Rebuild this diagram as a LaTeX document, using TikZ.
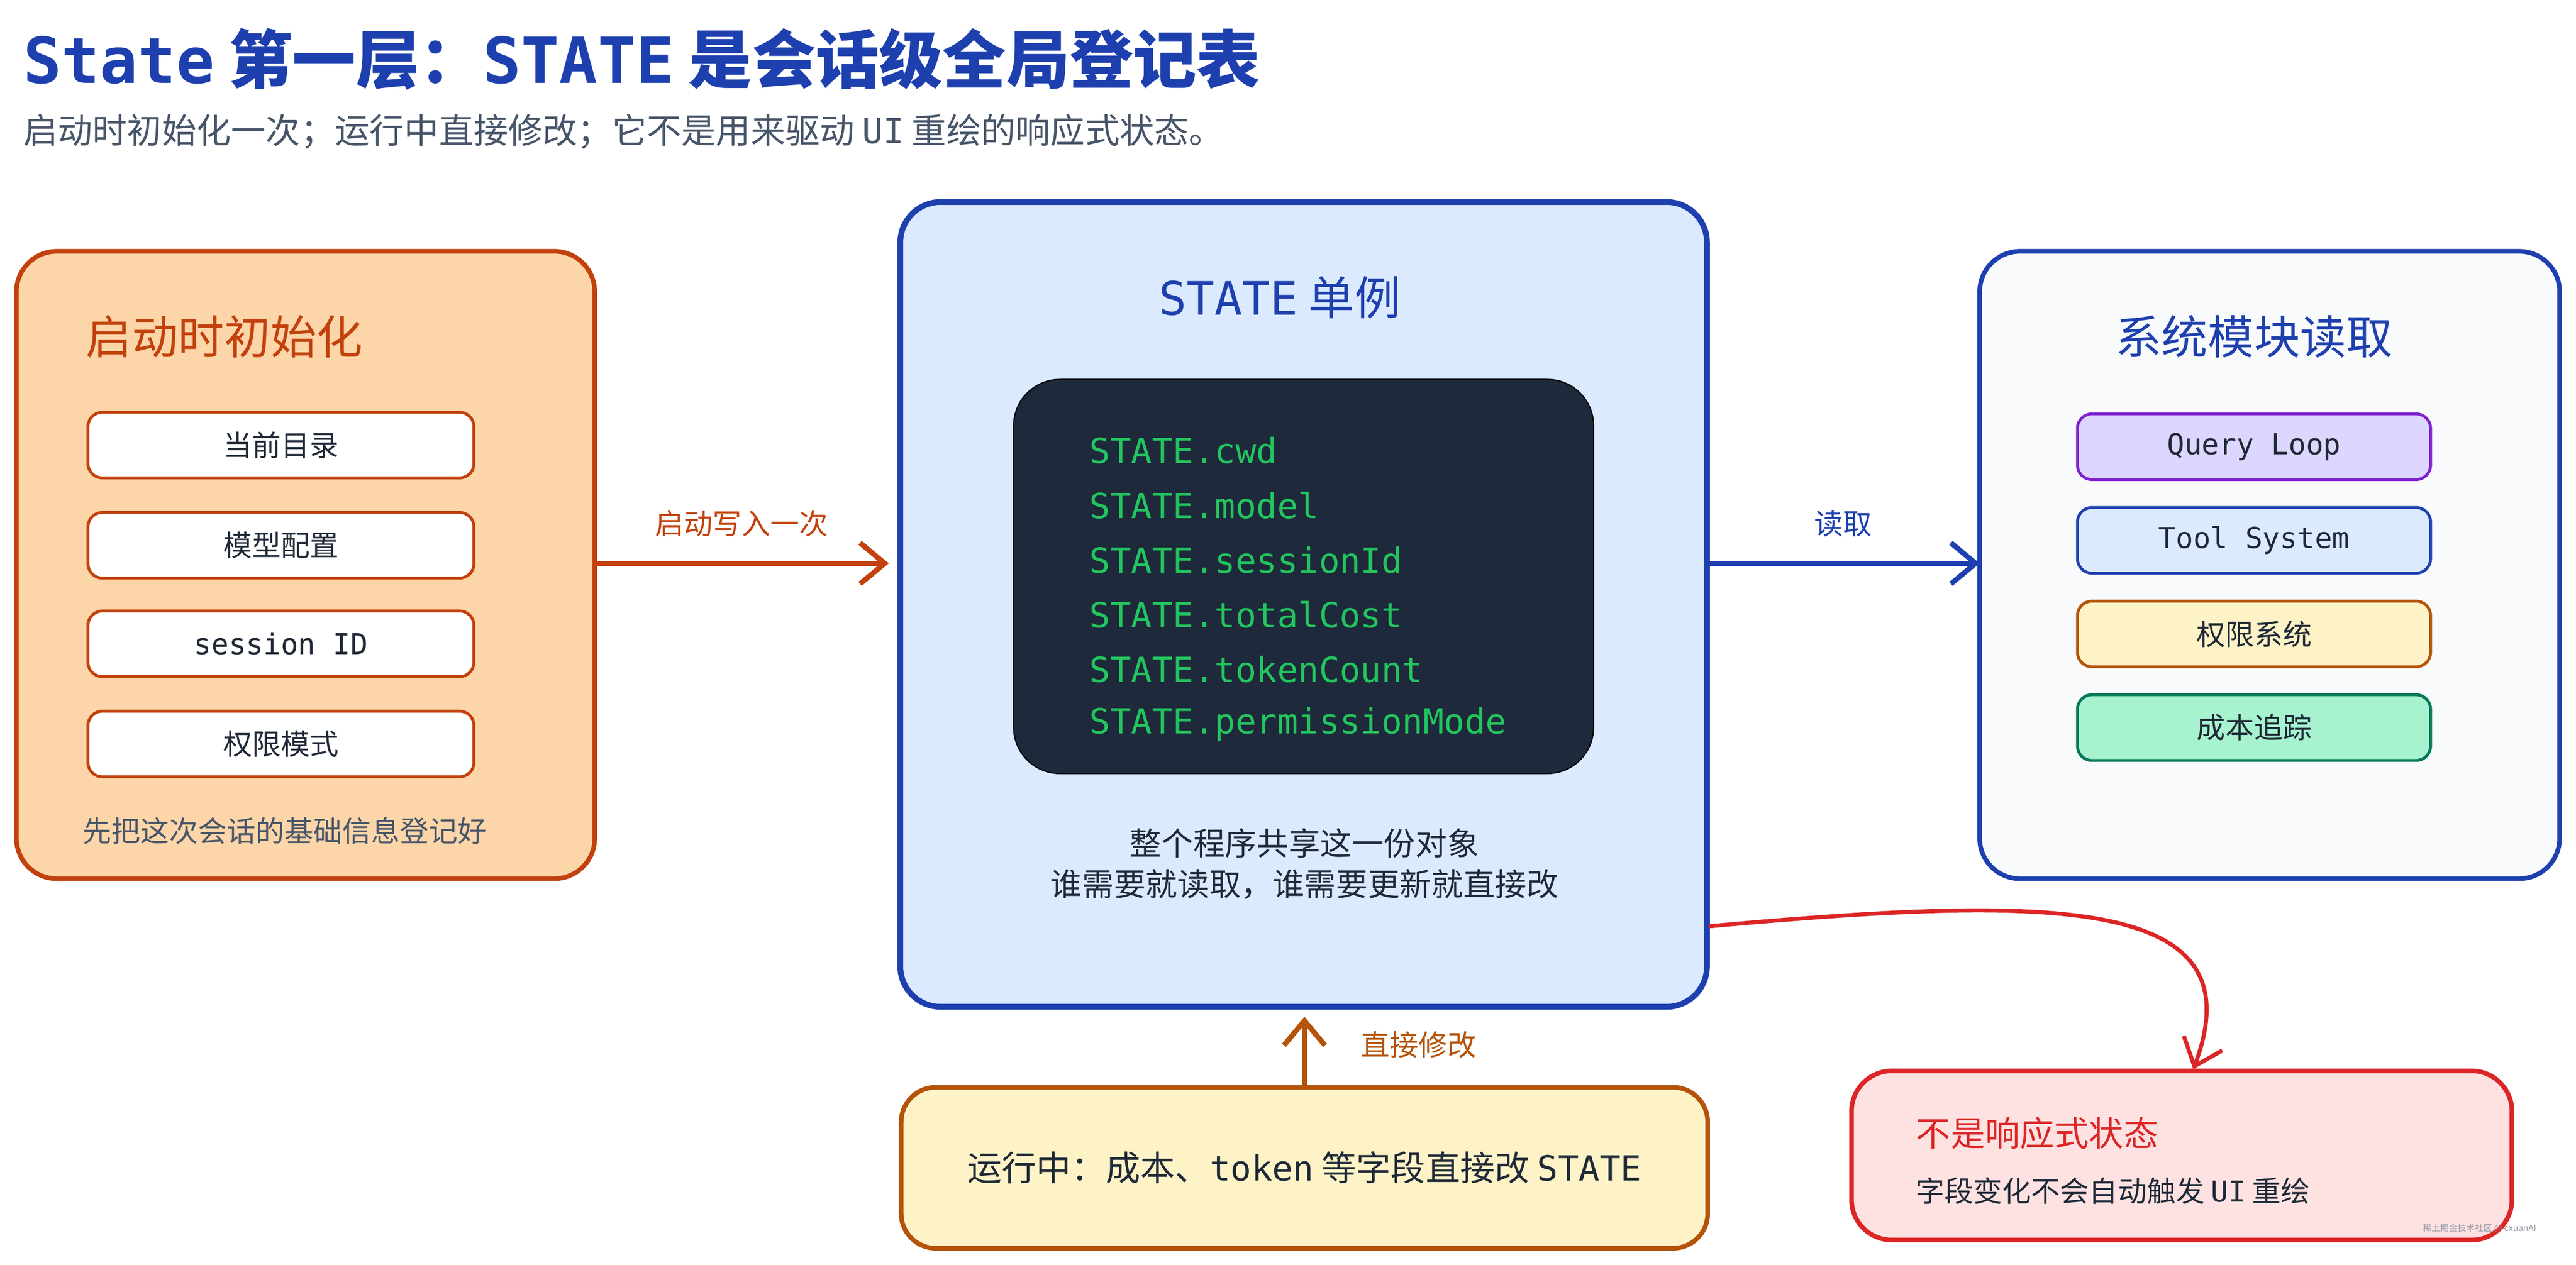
\documentclass[tikz,border=0pt]{standalone}
\usepackage{fontspec}
\setmainfont{Noto Sans CJK SC}
\setmonofont{DejaVu Sans Mono}
\usetikzlibrary{arrows.meta,positioning}
\definecolor{titleblue}{HTML}{1E40AF}
\definecolor{slate}{HTML}{475569}
\definecolor{ink}{HTML}{1F2937}
\definecolor{orng}{HTML}{C2410C}
\definecolor{orngfill}{HTML}{FCD5A8}
\definecolor{lightblue}{HTML}{DBEAFE}
\definecolor{navy}{HTML}{1E293B}
\definecolor{codegreen}{HTML}{22C55E}
\definecolor{offwhite}{HTML}{F8FAFC}
\definecolor{purp}{HTML}{7E22CE}
\definecolor{purpfill}{HTML}{DDD6FE}
\definecolor{brown}{HTML}{B45309}
\definecolor{cream}{HTML}{FEF3C7}
\definecolor{teal}{HTML}{047857}
\definecolor{mint}{HTML}{A7F3D0}
\definecolor{red}{HTML}{DC2626}
\definecolor{pink}{HTML}{FEE2E2}

\begin{document}
\begin{tikzpicture}[x=0.02cm,y=-0.02cm,
    panel/.style={draw,line width=1.6pt,rounded corners=14pt},
    item/.style={draw,line width=1pt,rounded corners=5pt,minimum width=4.7cm,minimum height=0.8cm,font=\fontsize{10}{12}\selectfont,text=ink},
    ritem/.style={item,minimum width=4.3cm},
    head/.style={font=\fontsize{16}{19}\selectfont},
    arr/.style={line width=1.8pt,-{Straight Barb[length=3mm,width=5mm]}},
    lbl/.style={font=\fontsize{10}{12}\selectfont}]
  \useasboundingbox (0,0) rectangle (1568,770);

  \node[anchor=west,text=titleblue,font=\fontsize{22}{26}\selectfont\bfseries] (title) at (8,36)
    {\texttt{State} 第一层：\texttt{STATE} 是会话级全局登记表};
  \node[anchor=west,text=slate,font=\fontsize{12}{14}\selectfont] (subtitle) at (8,80)
    {启动时初始化一次；运行中直接修改；它不是用来驱动 \texttt{UI} 重绘的响应式状态。};

  % left panel
  \draw[panel,draw=orng,fill=orngfill] (10,153) rectangle (362,535);
  \node[head,anchor=west,text=orng] (inithead) at (46,205) {启动时初始化};
  \node[item,draw=orng,fill=white] (cwd) at (171,271) {当前目录};
  \node[item,draw=orng,fill=white] (model) at (171,332) {模型配置};
  \node[item,draw=orng,fill=white] (sid) at (171,392) {\texttt{session ID}};
  \node[item,draw=orng,fill=white] (perm) at (171,453) {权限模式};
  \node[lbl,anchor=west,text=slate] (initnote) at (44,506) {先把这次会话的基础信息登记好};

  % center panel
  \draw[panel,draw=titleblue,fill=lightblue,line width=2pt] (548,123) rectangle (1039,613);
  \node[head,text=titleblue] (statehead) at (779,181) {\texttt{STATE} 单例};
  \draw[fill=navy,rounded corners=16pt] (617,231) rectangle (970,471);
  \foreach \t [count=\i] in {cwd,model,sessionId,totalCost,tokenCount,permissionMode}
    \node[anchor=west,text=codegreen,font=\fontsize{12}{14}\ttfamily] (f\i) at (657,241+33.3*\i) {STATE.\t};
  \node[lbl,text=ink,font=\fontsize{11}{14}\selectfont,align=center] (statenote) at (794,526)
    {整个程序共享这一份对象\\谁需要就读取，谁需要更新就直接改};

  % right panel
  \draw[panel,draw=titleblue,fill=offwhite] (1205,153) rectangle (1558,535);
  \node[head,text=titleblue] (readhead) at (1372,205) {系统模块读取};
  \node[ritem,draw=purp,fill=purpfill] (loop) at (1372,272) {\texttt{Query Loop}};
  \node[ritem,draw=titleblue,fill=lightblue] (tool) at (1372,329) {\texttt{Tool System}};
  \node[ritem,draw=brown,fill=cream] (permsys) at (1372,386) {权限系统};
  \node[ritem,draw=teal,fill=mint] (cost) at (1372,443) {成本追踪};

  \coordinate (lout) at (362,343);
  \coordinate (cin) at (541,343);
  \coordinate (cout) at (1039,343);
  \coordinate (rin) at (1205,343);
  \draw[arr,orng] (lout) -- node[above=5pt,lbl,text=orng] {启动写入一次} (cin);
  \draw[arr,titleblue] (cout) -- node[above=5pt,lbl,text=titleblue] {读取} (rin);

  % bottom
  \node[draw=brown,fill=cream,line width=1.6pt,rounded corners=12pt,minimum width=9.82cm,minimum height=1.96cm,
    font=\fontsize{12}{14}\selectfont,text=ink] (runtime) at (794,711)
    {运行中：成本、\texttt{token} 等字段直接改 \texttt{STATE}};
  \coordinate (cbot) at (794,619);
  \draw[arr,brown] (runtime.north) -- (cbot);
  \node[lbl,text=brown,anchor=west] (direct) at (822,636) {直接修改};

  \draw[draw=red,fill=pink,line width=1.6pt,rounded corners=14pt] (1127,652) rectangle (1529,755);
  \node[anchor=west,text=red,font=\fontsize{12}{14}\selectfont] (notreact) at (1160,690) {不是响应式状态};
  \node[anchor=west,text=ink,lbl] (notenote) at (1160,725) {字段变化不会自动触发 \texttt{UI} 重绘};
  \coordinate (cside) at (1040,564);
  \coordinate (rtop) at (1335,651);
  \draw[arr,red,line width=1.4pt] (cside) .. controls (1250,545) and (1375,545) .. (rtop);

  \node[anchor=east,text=slate!60,font=\fontsize{3}{4}\selectfont] (wm) at (1550,748) {稀土掘金技术社区 @ cxuanAI};
\end{tikzpicture}
\end{document}
